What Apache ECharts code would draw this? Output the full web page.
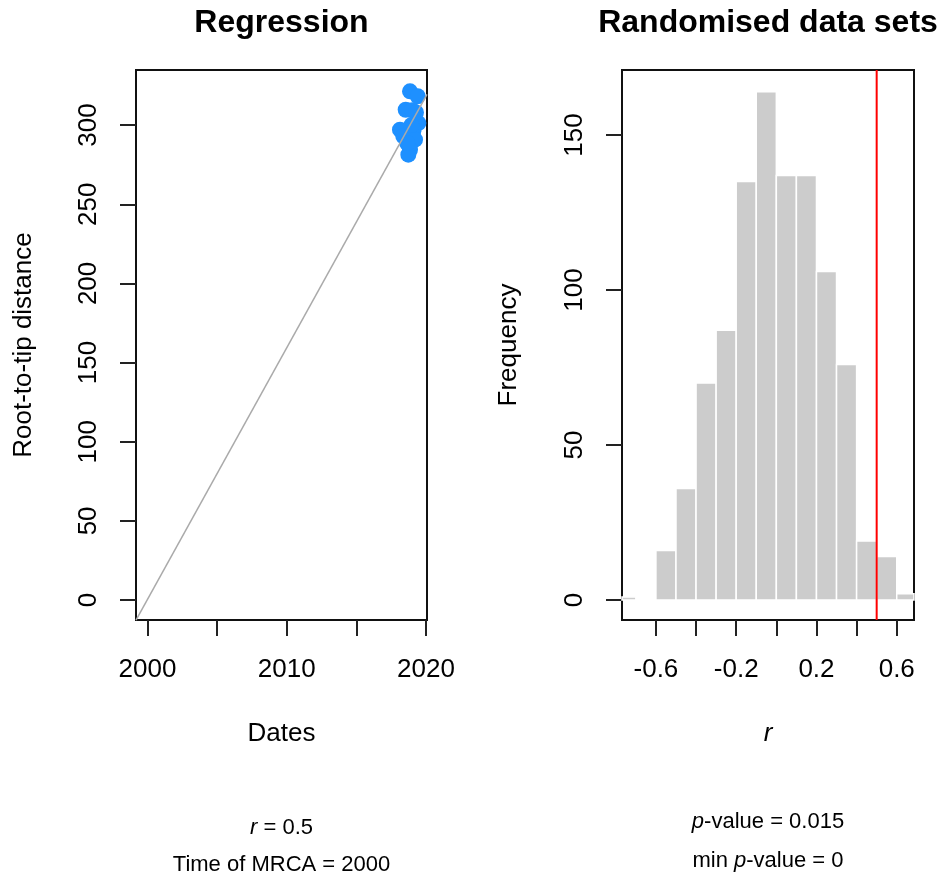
<!DOCTYPE html>
<html lang="en">
<head>
    <meta charset="UTF-8">
    <title>Regression / Randomised data sets</title>
    <script src="https://cdn.jsdelivr.net/npm/echarts@6/dist/echarts.min.js"></script>
    <style>
        * { padding: 0; margin: 0; }
        #chart { width: 942px; height: 877px; background: #ffffff; }
    </style>
</head>
<body>
<div id="chart"></div>
<script>
    // regression panel: sampling dates vs root-to-tip distance
    var dates = [2018.85, 2019.40, 2018.54, 2019.00, 2019.45, 2018.13, 2018.37, 2019.09, 2019.21, 2018.85, 2018.73, 2019.28, 2018.64, 2018.95];
    var rootToTip = [321.3, 318.2, 309.7, 309.4, 301.3, 297.1, 292.9, 296.1, 290.8, 284.5, 281.3, 308.0, 288.7, 300.0];
    var rate = 15.9;      // slope of the fitted line
    var mrca = 1999.98;   // x intercept
    var yearTicks = [2000, 2005, 2010, 2015, 2020];
    var yearLabels = [2000, 2010, 2020];
    var distTicks = [0, 50, 100, 150, 200, 250, 300];

    // randomised data sets: histogram of r
    var breaks = [-0.8, -0.7, -0.6, -0.5, -0.4, -0.3, -0.2, -0.1, 0, 0.1, 0.2, 0.3, 0.4, 0.5, 0.6, 0.7];
    var counts = [1, 0, 16, 36, 70, 87, 135, 164, 137, 137, 106, 76, 19, 14, 2];
    var rTicks = [-0.6, -0.4, -0.2, 0, 0.2, 0.4, 0.6];
    var rLabels = [-0.6, -0.2, 0.2, 0.6];
    var freqTicks = [0, 50, 100, 150];
    var observedR = 0.5;

    var font = 'Liberation Sans, Arial, Helvetica, sans-serif';
    var xLim1 = [1999.18, 2020.07], yLim1 = [-12.6, 334.8];
    var xLim2 = [-0.769, 0.686], yLim2 = [-6.45, 171];

    var scatterData = dates.map(function (d, i) { return [d, rootToTip[i]]; });
    var lineData = xLim1.map(function (x) { return [x, rate * (x - mrca)]; });
    var histData = counts.map(function (c, i) { return [breaks[i], breaks[i + 1], c]; });
    var obsLine = yLim2.map(function (y) { return [observedR, y]; });

    var tickStyle = { show: true, inside: false, length: 16, lineStyle: { color: '#222', width: 2 } };
    function plain(v) { return String(v); }
    function xLabel(vals) {
        return { show: true, customValues: vals, margin: 37, color: '#000', fontSize: 26, fontFamily: font, formatter: plain };
    }
    function yLabel(vals) {
        return { show: true, customValues: vals, rotate: 90, margin: 34, color: '#000', fontSize: 26, fontFamily: font, formatter: plain };
    }
    function axis(dim, idx, lim, ticks, labels) {
        return {
            type: 'value', gridIndex: idx, min: lim[0], max: lim[1],
            axisLine: { show: false, onZero: false }, splitLine: { show: false },
            axisTick: Object.assign({ customValues: ticks }, tickStyle),
            axisLabel: dim === 'x' ? xLabel(labels) : yLabel(labels)
        };
    }
    function text(x, y, str, size, extra) {
        return {
            type: 'text', x: x, y: y, rotation: (extra && extra.rotation) || 0,
            style: {
                text: str, fill: '#000', font: ((extra && extra.weight) || 'normal') + ' ' + size + 'px ' + font,
                textAlign: 'center', textVerticalAlign: 'middle',
                rich: {
                    i: { fontStyle: 'italic', fontSize: size, fontFamily: font, fill: '#000' }
                }
            }
        };
    }

    var chart = echarts.init(document.getElementById('chart'));
    chart.setOption({
        backgroundColor: '#ffffff',
        animation: false,
        grid: [
            { left: 136, top: 70, width: 291, height: 550, show: true, borderColor: '#111', borderWidth: 2, backgroundColor: 'transparent' },
            { left: 622, top: 70, width: 292, height: 550, show: true, borderColor: '#111', borderWidth: 2, backgroundColor: 'transparent' }
        ],
        xAxis: [
            axis('x', 0, xLim1, yearTicks, yearLabels),
            axis('x', 1, xLim2, rTicks, rLabels)
        ],
        yAxis: [
            axis('y', 0, yLim1, distTicks, distTicks),
            axis('y', 1, yLim2, freqTicks, freqTicks)
        ],
        series: [
            {
                type: 'line', xAxisIndex: 0, yAxisIndex: 0, data: lineData,
                symbol: 'none', lineStyle: { color: '#aaaaaa', width: 1.5 }, z: 3
            },
            {
                type: 'scatter', xAxisIndex: 0, yAxisIndex: 0, data: scatterData,
                symbol: 'circle', symbolSize: 16, itemStyle: { color: '#1e90ff', opacity: 1 }, z: 2
            },
            {
                type: 'custom', xAxisIndex: 1, yAxisIndex: 1, data: histData,
                renderItem: function (params, api) {
                    if (api.value(2) === 0) return;
                    var p0 = api.coord([api.value(0), api.value(2)]);
                    var p1 = api.coord([api.value(1), 0]);
                    var shape = echarts.graphic.clipRectByRect(
                        { x: p0[0], y: p0[1], width: p1[0] - p0[0], height: p1[1] - p0[1] },
                        params.coordSys
                    );
                    if (!shape) return;
                    return {
                        type: 'rect', shape: shape,
                        style: { fill: '#cccccc', stroke: '#ffffff', lineWidth: 1.5 }
                    };
                },
                encode: { x: [0, 1], y: 2 }
            },
            {
                type: 'line', xAxisIndex: 1, yAxisIndex: 1, data: obsLine,
                symbol: 'none', lineStyle: { color: '#ff0000', width: 2 }, z: 4
            }
        ],
        graphic: [
            text(281.5, 23, 'Regression', 32, { weight: 'bold' }),
            text(768, 23, 'Randomised data sets', 32, { weight: 'bold' }),
            text(24, 345, 'Root-to-tip distance', 26, { rotation: Math.PI / 2 }),
            text(509, 345, 'Frequency', 26, { rotation: Math.PI / 2 }),
            text(281.5, 734, 'Dates', 26),
            text(768, 734, '{i|r}', 26),
            text(281.5, 828, '{i|r} = 0.5', 22),
            text(281.5, 865, 'Time of MRCA = 2000', 22),
            text(768, 822, '{i|p}-value = 0.015', 22),
            text(768, 861, 'min {i|p}-value = 0', 22)
        ]
    });
</script>
</body>
</html>
